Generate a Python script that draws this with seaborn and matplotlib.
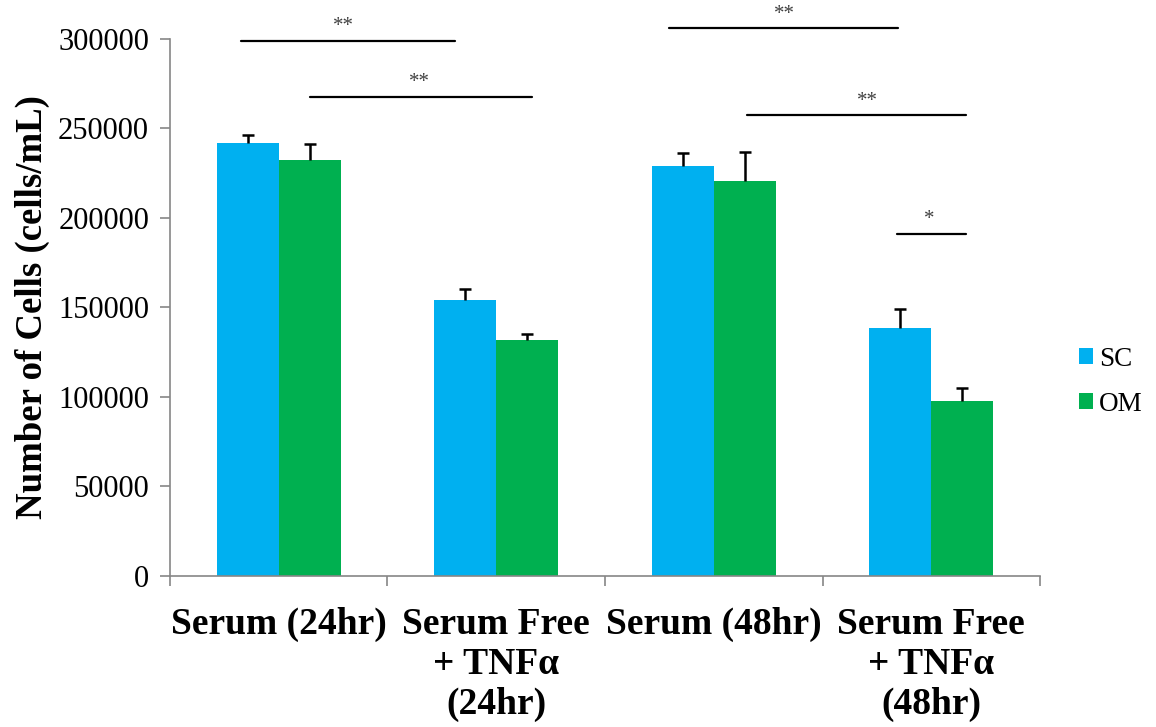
import matplotlib
matplotlib.use("Agg")
import matplotlib.pyplot as plt
import seaborn as sns
import pandas as pd
import numpy as np
from matplotlib.patches import Patch

# ---- data ----
categories = ["Serum (24hr)", "Serum Free\n+ TNFα\n(24hr)", "Serum (48hr)", "Serum Free\n+ TNFα\n(48hr)"]
series = ["SC", "OM"]
sc_values = [241700, 154200, 229200, 138400]
om_values = [232400, 131800, 220800, 97800]
sc_errors = [4700, 6300, 7300, 10900]
om_errors = [8900, 3200, 16100, 7400]
y_ticks = [0, 50000, 100000, 150000, 200000, 250000, 300000]
# significance brackets
sig_x0 = [-0.175, 0.144, 1.794, 2.152, 2.843]
sig_x1 = [0.810, 1.163, 2.847, 3.159, 3.159]
sig_y = [299000, 267800, 306100, 257400, 191100]
sig_labels = ["**", "**", "**", "**", "*"]
sig_label_x = [0.30, 0.645, 2.324, 2.707, 2.99]

colors = {"SC": "#00B0F0", "OM": "#00B050"}

df = pd.DataFrame({
    "category": categories * 2,
    "series": ["SC"] * 4 + ["OM"] * 4,
    "value": sc_values + om_values,
})

sns.set_theme(style="white")
plt.rcParams["font.family"] = ["Liberation Serif", "DejaVu Serif"]
plt.rcParams["text.color"] = "black"
plt.rcParams["xtick.color"] = "black"
plt.rcParams["ytick.color"] = "black"
plt.rcParams["axes.labelcolor"] = "black"

fig = plt.figure(figsize=(11.56, 7.27), dpi=100)
ax = fig.add_axes([0.147, 0.2077, 0.7527, 0.7387])

sns.barplot(data=df, x="category", y="value", hue="series", order=categories,
            hue_order=series, palette=colors, errorbar=None, width=0.57,
            saturation=1, ax=ax, legend=False, linewidth=0)

errs = {"SC": sc_errors, "OM": om_errors}
cap_half = 0.027
for cont, s in zip(ax.containers, series):
    xs = np.array([p.get_x() + p.get_width() / 2 for p in cont])
    hs = np.array([p.get_height() for p in cont])
    tops = hs + np.array(errs[s])
    ax.vlines(xs, hs, tops, colors="black", lw=1.8, zorder=3)
    ax.hlines(tops, xs - cap_half, xs + cap_half, colors="black", lw=1.8, zorder=3)

ax.set_ylim(0, 300000)
ax.set_xlim(-0.5, 3.5)
ax.set_yticks(y_ticks)
ax.set_yticklabels([str(v) for v in y_ticks], fontsize=22)
ax.set_xticks(range(4))
ax.set_xticklabels(categories, fontsize=27, fontweight="bold", linespacing=1.2)
ax.set_xticks([-0.5, 0.5, 1.5, 2.5, 3.5], minor=True)
ax.tick_params(axis="x", which="major", length=0, pad=22)
ax.tick_params(axis="x", which="minor", length=7, width=1.2, color="#868686", direction="out", bottom=True)
ax.tick_params(axis="y", which="major", length=7, width=1.2, color="#868686", labelcolor="black",
               direction="out", left=True, pad=8)
ax.set_xlabel("")
ax.set_ylabel("Number of Cells (cells/mL)", fontsize=26.5, fontweight="bold", labelpad=6)

for side in ["top", "right"]:
    ax.spines[side].set_visible(False)
for side in ["left", "bottom"]:
    ax.spines[side].set_color("#868686")
    ax.spines[side].set_linewidth(1.2)
ax.grid(False)

for x0, x1, y, lab, lx in zip(sig_x0, sig_x1, sig_y, sig_labels, sig_label_x):
    ax.plot([x0, x1], [y, y], color="black", lw=1.6, clip_on=False)
    ax.text(lx, y + 2500, lab, ha="center", va="bottom", fontsize=15, color="#404040", clip_on=False)

handles = [Patch(facecolor=colors[s], edgecolor="none", label=s) for s in series]
fig.legend(handles=handles, loc="center left", bbox_to_anchor=(0.933, 0.475), frameon=False,
           fontsize=19.5, handlelength=0.55, handleheight=0.55, handletextpad=0.2, labelspacing=0.75,
           borderpad=0, borderaxespad=0)

fig.savefig("out.png", dpi=100)
